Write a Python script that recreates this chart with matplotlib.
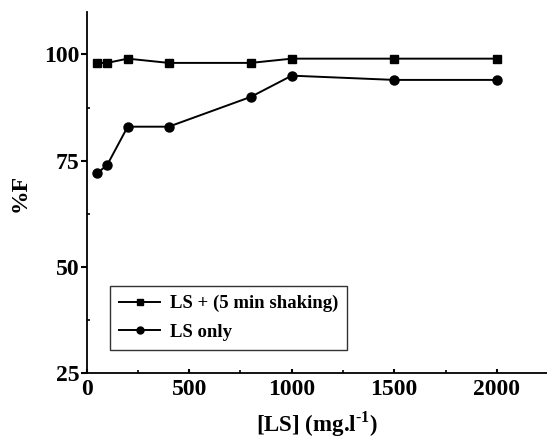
import matplotlib
matplotlib.use("Agg")
import matplotlib.pyplot as plt
from matplotlib.ticker import MultipleLocator
from matplotlib.lines import Line2D

x_values = [50, 100, 200, 400, 800, 1000, 1500, 2000]
shaking = [98, 98, 99, 98, 98, 99, 99, 99]
ls_only = [72, 74, 83, 83, 90, 95, 94, 94]
series_labels = ["LS + (5 min shaking)", "LS only"]
x_ticks = [0, 500, 1000, 1500, 2000]
y_ticks = [25, 50, 75, 100]

plt.rcParams['font.family'] = ['Liberation Serif', 'DejaVu Serif']
plt.rcParams['font.weight'] = 'bold'
plt.rcParams['mathtext.fontset'] = 'custom'
plt.rcParams['mathtext.rm'] = 'Liberation Serif:bold'
plt.rcParams['mathtext.bf'] = 'Liberation Serif:bold'

fig = plt.figure(figsize=(5.47, 4.40), dpi=100)
ax = fig.add_axes([0.1585, 0.1516, 0.8415, 0.8214])

ax.plot(x_values, shaking, color='black', lw=1.4, marker='s', ms=5.5, clip_on=False)
ax.plot(x_values, ls_only, color='black', lw=1.4, marker='o', ms=6.5, clip_on=False)

ax.set_xlim(0, 2245)
ax.set_ylim(25, 110)
ax.set_xticks(x_ticks)
ax.set_yticks(y_ticks)
ax.xaxis.set_minor_locator(MultipleLocator(250))
ax.yaxis.set_minor_locator(MultipleLocator(12.5))
ax.spines['top'].set_visible(False)
ax.spines['right'].set_visible(False)
for s in ['left', 'bottom']:
    ax.spines[s].set_linewidth(1.3)
ax.tick_params(axis='y', which='major', direction='out', length=4, width=1.5, labelsize=17, pad=1)
ax.tick_params(axis='x', which='major', direction='in', length=3, width=1.5, labelsize=17, pad=4)
ax.tick_params(which='minor', direction='in', length=2, width=1.2)
for lab in ax.get_xticklabels() + ax.get_yticklabels():
    lab.set_fontweight('bold')

ax.set_xlabel('[LS] (mg.l$^{\\text{-1}}$)', fontsize=16.5, fontweight='bold', labelpad=7)
ax.set_ylabel('%F', fontsize=17, fontweight='bold', labelpad=10)

handles = [Line2D([], [], color='black', lw=1.4, marker='s', ms=4.5),
           Line2D([], [], color='black', lw=1.4, marker='o', ms=5)]
leg = ax.legend(handles, series_labels, loc='lower left', bbox_to_anchor=(0.05, 0.064), frameon=True,
                fancybox=False, edgecolor='black', prop={'weight': 'bold', 'size': 13.5},
                handlelength=2.2, borderpad=0.5, labelspacing=0.6, handletextpad=0.5, borderaxespad=0)
leg.get_frame().set_linewidth(1.0)

fig.savefig('out.png', dpi=100)
